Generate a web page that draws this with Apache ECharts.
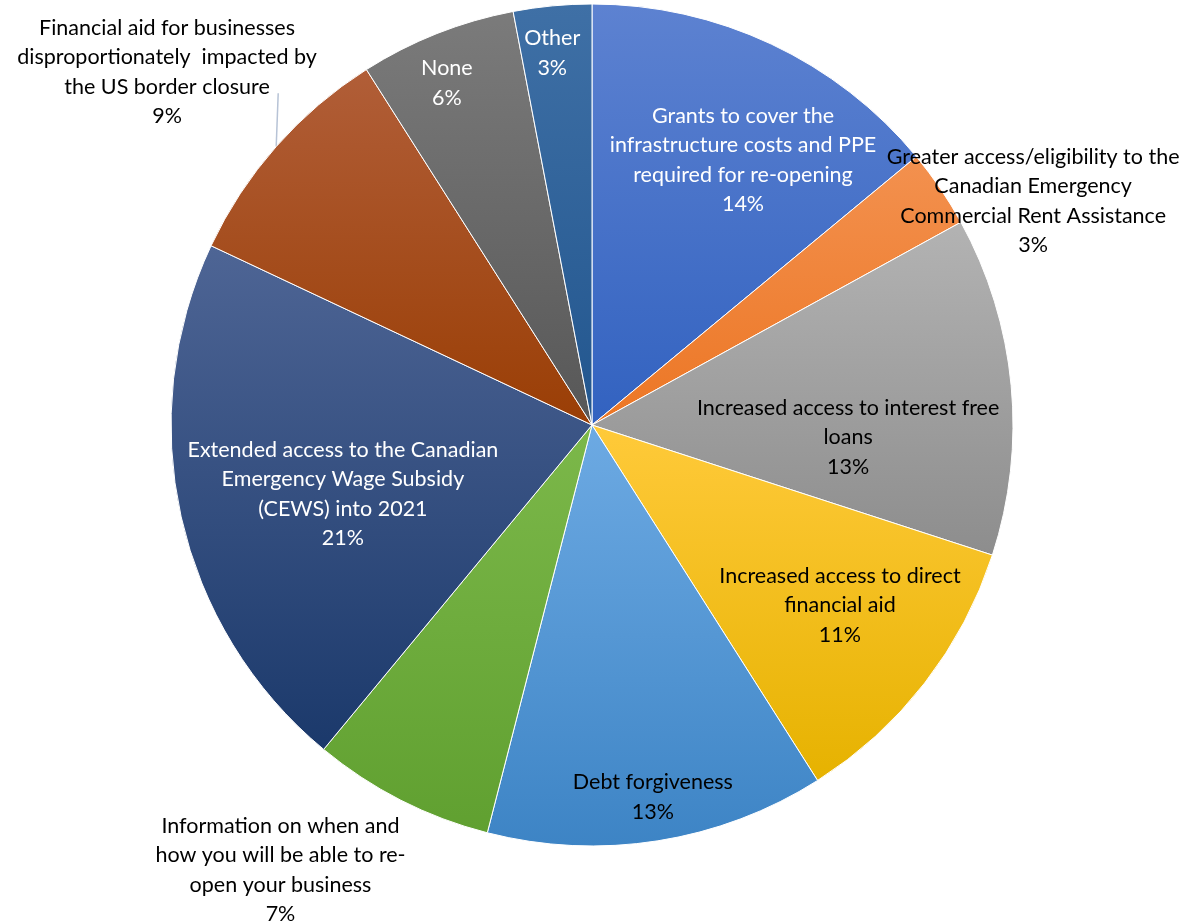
<!DOCTYPE html>
<html><head><meta charset="utf-8">
<script src="https://cdn.jsdelivr.net/npm/echarts@6/dist/echarts.min.js"></script>
<style>html,body{margin:0;padding:0;background:#fff}#c{width:1191px;height:922px}</style>
</head><body><div id="c"></div>
<script>
const categories = [
  'Grants to cover the\ninfrastructure costs and PPE\nrequired for re-opening',
  'Greater access/eligibility to the\nCanadian Emergency\nCommercial Rent Assistance',
  'Increased access to interest free\nloans',
  'Increased access to direct\nfinancial aid',
  'Debt forgiveness',
  'Information on when and\nhow you will be able to re-\nopen your business',
  'Extended access to the Canadian\nEmergency Wage Subsidy\n(CEWS) into 2021',
  'Financial aid for businesses\ndisproportionately  impacted by\nthe US border closure',
  'None',
  'Other'
];
const values = [14, 3, 13, 11, 13, 7, 21, 9, 6, 3];

// style config (not data)
const gradTop = ['#5d82d1','#f3914f','#b3b3b3','#ffca3a','#6daae3','#7cb84a','#4e6595','#b15e38','#7b7b7b','#3f70a6'];
const gradBot = ['#3262c0','#ec7624','#8d8d8d','#e6b200','#3d84c5','#60a030','#1b396b','#9a3e05','#575757','#22568e'];
const labelColor = ['#fff','#000','#000','#000','#000','#000','#fff','#000','#fff','#fff'];
const labelFrac = [0.724,1.175,0.609,0.728,0.895,1.29,0.614,1.312,0.882,0.889];
const labelAngleShift = [4.5,7.3,8.1,-1.8,-0.3,8,-2.9,-1.7,-1.4,-0.7];
const leaderIndex = 7;

const CX = 592, CY = 425, R = 421;
const total = values.reduce((a,b)=>a+b,0);
const mids = [];
{ let acc = 0; values.forEach(v => { mids.push((acc + v/2)/total*360); acc += v; }); }

const data = values.map((v,i) => ({
  name: categories[i], value: v,
  itemStyle: { color: new echarts.graphic.LinearGradient(0,0,0,1,[{offset:0,color:gradTop[i]},{offset:1,color:gradBot[i]}]) },
  label: { color: labelColor[i], position: i === leaderIndex ? 'outside' : 'inside' },
  labelLine: { show: i === leaderIndex, lineStyle: { color: '#b7c3d6', width: 1.5 } }
}));

const chart = echarts.init(document.getElementById('c'));
chart.setOption({
  animation: false,
  series: [{
    type: 'pie',
    center: [CX, CY],
    radius: [0, R],
    startAngle: 90,
    clockwise: true,
    data: data,
    itemStyle: { borderColor: '#ffffff', borderWidth: 1 },
    label: {
      show: true,
      fontFamily: 'Lato',
      fontSize: 21.5,
      lineHeight: 29.5,
      align: 'center',
      overflow: 'none',
      formatter: p => p.name + '\n' + Math.round(p.percent) + '%'
    },
    labelLine: { show: false, length: 10, length2: 10 },
    labelLayout: function (p) {
      const i = p.dataIndex;
      const a = (mids[i] + labelAngleShift[i]) * Math.PI / 180;
      const d = labelFrac[i] * R;
      const lx = CX + d*Math.sin(a), ly = CY - d*Math.cos(a);
      const out = { x: lx, y: ly, align: 'center', verticalAlign: 'middle' };
      if (i === leaderIndex) {
        const m = mids[i] * Math.PI / 180;
        const sx = CX + R*Math.sin(m), sy = CY - R*Math.cos(m);
        out.labelLinePoints = [[sx, sy], [sx + 2, ly + 21], [sx + 2, ly + 21]];
      }
      return out;
    }
  }]
});
</script></body></html>
